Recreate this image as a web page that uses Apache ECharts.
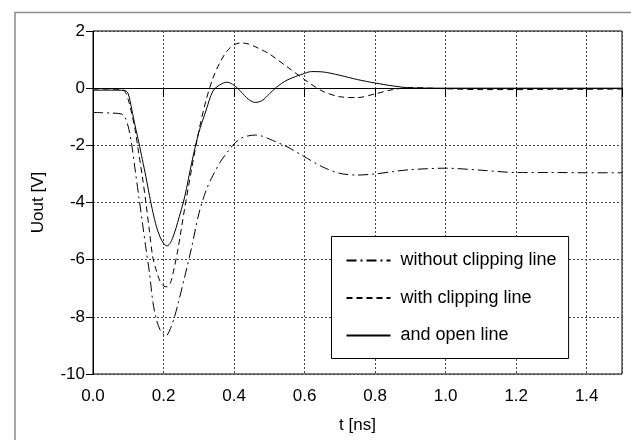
<!DOCTYPE html>
<html>
<head>
<meta charset="utf-8">
<script src="https://cdn.jsdelivr.net/npm/echarts@6/dist/echarts.min.js"></script>
<style>html,body{margin:0;padding:0;background:#fff;}#c{width:631px;height:440px;}</style>
</head>
<body>
<div id="c"></div>
<script>
// Data
const seriesNames = ['without clipping line', 'with clipping line', 'and open line'];

const tWithout = [0, 0.05, 0.08, 0.09, 0.1, 0.11, 0.12, 0.13, 0.14, 0.15, 0.16, 0.17, 0.18, 0.19, 0.2, 0.205, 0.21, 0.22, 0.23, 0.24, 0.26, 0.28, 0.3, 0.32, 0.34, 0.36, 0.38, 0.4, 0.42, 0.44, 0.46, 0.48, 0.5, 0.55, 0.6, 0.65, 0.7, 0.75, 0.8, 0.85, 0.9, 1.0, 1.1, 1.2, 1.3, 1.4, 1.5];
const vWithout = [-0.85, -0.87, -0.9, -1.0, -1.35, -2.0, -2.9, -3.8, -4.7, -5.6, -6.45, -7.5, -8.1, -8.45, -8.62, -8.68, -8.65, -8.4, -8.05, -7.6, -6.6, -5.55, -4.4, -3.6, -3.05, -2.6, -2.25, -1.95, -1.75, -1.67, -1.64, -1.68, -1.78, -2.05, -2.4, -2.75, -2.98, -3.04, -3.0, -2.92, -2.85, -2.8, -2.87, -2.95, -2.95, -2.96, -2.96];

const tWith = [0, 0.05, 0.08, 0.09, 0.1, 0.11, 0.12, 0.13, 0.14, 0.15, 0.16, 0.17, 0.18, 0.19, 0.2, 0.21, 0.22, 0.23, 0.24, 0.26, 0.28, 0.3, 0.32, 0.34, 0.36, 0.38, 0.4, 0.42, 0.44, 0.46, 0.48, 0.5, 0.55, 0.6, 0.65, 0.7, 0.75, 0.8, 0.85, 0.9, 1.0, 1.1, 1.2, 1.3, 1.4, 1.5];
const vWith = [-0.03, -0.03, -0.05, -0.1, -0.4, -0.9, -1.5, -2.3, -3.1, -4.0, -5.0, -5.95, -6.4, -6.75, -6.92, -6.95, -6.8, -6.3, -5.7, -4.2, -2.8, -1.5, -0.45, 0.35, 0.9, 1.3, 1.52, 1.58, 1.55, 1.45, 1.33, 1.2, 0.75, 0.3, -0.1, -0.3, -0.33, -0.2, -0.05, 0.02, -0.02, -0.05, -0.05, -0.04, -0.04, -0.03];

const tOpen = [0, 0.05, 0.09, 0.1, 0.11, 0.12, 0.13, 0.14, 0.15, 0.16, 0.17, 0.18, 0.19, 0.2, 0.21, 0.22, 0.23, 0.24, 0.26, 0.28, 0.3, 0.32, 0.34, 0.36, 0.38, 0.4, 0.42, 0.44, 0.46, 0.48, 0.5, 0.52, 0.55, 0.6, 0.62, 0.65, 0.7, 0.75, 0.8, 0.85, 0.9, 1.0, 1.1, 1.2, 1.3, 1.4, 1.5];
const vOpen = [-0.07, -0.07, -0.08, -0.2, -0.75, -1.35, -1.9, -2.5, -3.1, -3.75, -4.35, -4.85, -5.2, -5.43, -5.52, -5.4, -5.1, -4.7, -3.8, -2.6, -1.55, -0.8, -0.1, 0.12, 0.21, 0.1, -0.13, -0.38, -0.5, -0.43, -0.2, 0.03, 0.28, 0.52, 0.58, 0.57, 0.45, 0.3, 0.18, 0.08, 0.01, 0, 0, 0, 0, 0, 0];

const xTicks = [0, 0.2, 0.4, 0.6, 0.8, 1.0, 1.2, 1.4];
const yTicks = [-10, -8, -6, -4, -2, 0, 2];

const pair = (t, v) => t.map((x, i) => [x, v[i]]);
const FONT = '"Liberation Sans", Arial, Helvetica, sans-serif';

const chart = echarts.init(document.getElementById('c'), null, {renderer: 'canvas'});
const gridBox = {left: 93, top: 31, right: 9, bottom: 66};

const baseX = {
  type: 'value', min: 0, max: 1.5, interval: 0.2, gridIndex: 0
};
const baseY = {
  type: 'value', min: yTicks[0], max: yTicks[yTicks.length - 1], interval: 2, gridIndex: 0
};

chart.setOption({
  animation: false,
  backgroundColor: '#fff',
  textStyle: {fontFamily: FONT},
  graphic: [{
    type: 'rect', left: 12.5, top: 10, z: -10,
    shape: {width: 800, height: 600},
    style: {fill: 'none', stroke: '#8c8c8c', lineWidth: 1.5}
  }],
  grid: Object.assign({show: true, borderColor: '#000', borderWidth: 1, backgroundColor: 'transparent'}, gridBox),
  legend: {
    orient: 'vertical', left: 331.5, top: 236.5,
    data: seriesNames,
    backgroundColor: '#fff', borderColor: '#000', borderWidth: 1,
    padding: [15, 12, 14, 14],
    itemWidth: 44, itemHeight: 20, itemGap: 19.5,
    itemStyle: {opacity: 0},
    textStyle: {fontFamily: FONT, fontSize: 18, color: '#000', padding: [0, 0, 0, 5]}
  },
  xAxis: [
    Object.assign({}, baseX, {
      name: 't [ns]', nameLocation: 'middle', nameGap: 43,
      nameTextStyle: {fontFamily: FONT, fontSize: 17, color: '#000'},
      axisLine: {show: true, lineStyle: {color: '#000', width: 1}},
      axisTick: {show: true, inside: false, length: 7, lineStyle: {color: '#000'}},
      axisLabel: {show: true, showMaxLabel: false, margin: 14, fontFamily: FONT, fontSize: 17, color: '#000',
        formatter: v => (xTicks.some(t => Math.abs(t - v) < 1e-9) ? v.toFixed(1) : '')},
      splitLine: {show: true, lineStyle: {color: '#444', type: [2, 2], width: 1}}
    }),
    Object.assign({}, baseX, {
      axisLine: {show: false},
      axisTick: {show: true, inside: true, length: 9, lineStyle: {color: '#000'}},
      axisLabel: {show: false},
      splitLine: {show: false}
    })
  ],
  yAxis: [
    Object.assign({}, baseY, {
      name: 'Uout [V]', nameLocation: 'middle', nameGap: 46, nameRotate: 90,
      nameTextStyle: {fontFamily: FONT, fontSize: 17, color: '#000'},
      axisLine: {show: true, lineStyle: {color: '#000', width: 1}},
      axisTick: {show: true, inside: false, length: 7, lineStyle: {color: '#000'}},
      axisLabel: {show: true, margin: 8, fontFamily: FONT, fontSize: 17, color: '#000'},
      splitLine: {show: true, lineStyle: {color: '#444', type: [2, 2], width: 1}}
    }),
    Object.assign({}, baseY, {
      axisLine: {show: false},
      axisTick: {show: true, inside: true, length: 7, lineStyle: {color: '#000'}},
      axisLabel: {show: false},
      splitLine: {show: false}
    })
  ],
  series: [
    {
      name: seriesNames[0], type: 'line', data: pair(tWithout, vWithout),
      showSymbol: false, symbol: 'none', smooth: 0.3,
      lineStyle: {color: '#000', width: 1, type: [10, 4, 2, 4]},
      itemStyle: {color: '#000'}
    },
    {
      name: seriesNames[1], type: 'line', data: pair(tWith, vWith),
      showSymbol: false, symbol: 'none', smooth: 0.3,
      lineStyle: {color: '#000', width: 1, type: [6, 4]},
      itemStyle: {color: '#000'}
    },
    {
      name: seriesNames[2], type: 'line', data: pair(tOpen, vOpen),
      showSymbol: false, symbol: 'none', smooth: 0.3,
      lineStyle: {color: '#000', width: 1, type: 'solid'},
      itemStyle: {color: '#000'},
      markLine: {
        silent: true, symbol: 'none', label: {show: false},
        lineStyle: {color: '#000', width: 1.2, type: 'solid'},
        data: [{yAxis: 0}]
      }
    }
  ]
});
</script>
</body>
</html>
